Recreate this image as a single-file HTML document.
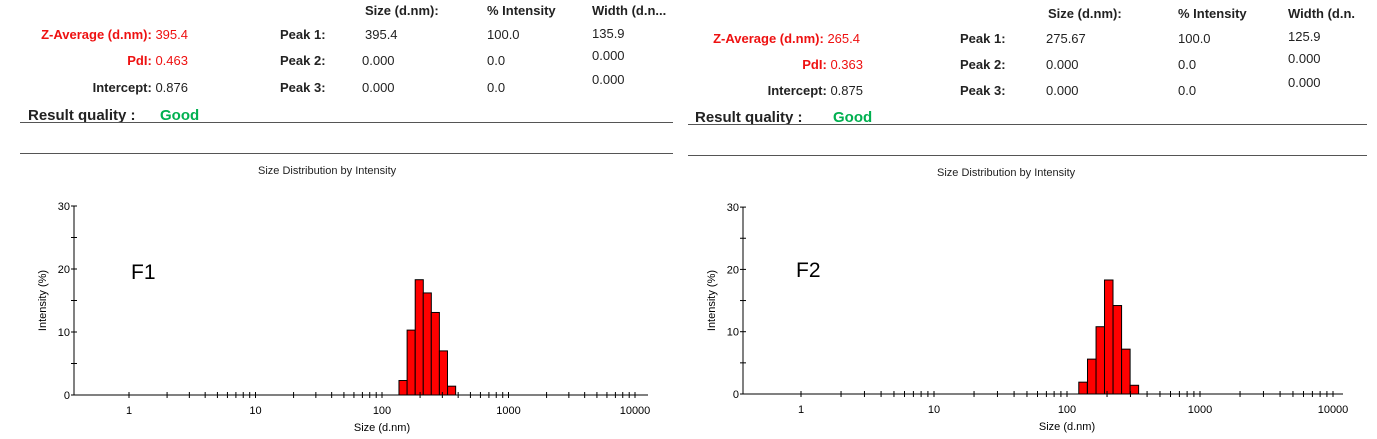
<!DOCTYPE html>
<html><head><meta charset="utf-8"><style>
body{margin:0;width:1377px;height:439px;background:#fff;position:relative;overflow:hidden;font-family:"Liberation Sans",Arial,sans-serif;}
.t{position:absolute;font-size:13px;color:#222;white-space:nowrap;}
.b{font-weight:bold;}
.rt{text-align:right;}
.hl{position:absolute;height:1px;background:#555;}
svg{position:absolute;left:0;top:0;}
</style></head><body>
<!-- Left panel -->
<div>
<div class="t b" style="left:365px;top:3px">Size (d.nm):</div>
<div class="t b" style="left:487px;top:3px">% Intensity</div>
<div class="t b" style="left:592px;top:3px">Width (d.n...</div>
<div class="t rt" style="left:0;width:188px;top:27px"><span class="b" style="color:#ee1111">Z-Average (d.nm):</span> <span style="color:#ee1111">395.4</span></div>
<div class="t rt" style="left:0;width:188px;top:53px"><span class="b" style="color:#ee1111">PdI:</span> <span style="color:#ee1111">0.463</span></div>
<div class="t rt" style="left:0;width:188px;top:80px"><span class="b">Intercept:</span> 0.876</div>
<div class="t b" style="left:280px;top:27px">Peak 1:</div>
<div class="t b" style="left:280px;top:53px">Peak 2:</div>
<div class="t b" style="left:280px;top:80px">Peak 3:</div>
<div class="t" style="left:365px;top:27px">395.4</div>
<div class="t" style="left:362px;top:53px">0.000</div>
<div class="t" style="left:362px;top:80px">0.000</div>
<div class="t" style="left:487px;top:27px">100.0</div>
<div class="t" style="left:487px;top:53px">0.0</div>
<div class="t" style="left:487px;top:80px">0.0</div>
<div class="t" style="left:592px;top:26px">135.9</div>
<div class="t" style="left:592px;top:48px">0.000</div>
<div class="t" style="left:592px;top:72px">0.000</div>
<div class="t b" style="left:28px;top:107px;font-size:15px">Result quality :</div>
<div class="t b" style="left:160px;top:107px;font-size:15px;color:#00b050">Good</div>
<div class="hl" style="left:20px;width:653px;top:122px"></div>
<div class="hl" style="left:20px;width:653px;top:153px"></div>
<div class="t" style="left:258px;top:165px;font-size:11px">Size Distribution by Intensity</div>
</div>
<!-- Right panel -->
<div>
<div class="t b" style="left:1048px;top:6px">Size (d.nm):</div>
<div class="t b" style="left:1178px;top:6px">% Intensity</div>
<div class="t b" style="left:1288px;top:6px">Width (d.n.</div>
<div class="t rt" style="left:600px;width:260px;top:31px"><span class="b" style="color:#ee1111">Z-Average (d.nm):</span> <span style="color:#ee1111">265.4</span></div>
<div class="t rt" style="left:600px;width:263px;top:57px"><span class="b" style="color:#ee1111">PdI:</span> <span style="color:#ee1111">0.363</span></div>
<div class="t rt" style="left:600px;width:263px;top:83px"><span class="b">Intercept:</span> 0.875</div>
<div class="t b" style="left:960px;top:31px">Peak 1:</div>
<div class="t b" style="left:960px;top:57px">Peak 2:</div>
<div class="t b" style="left:960px;top:83px">Peak 3:</div>
<div class="t" style="left:1046px;top:31px">275.67</div>
<div class="t" style="left:1046px;top:57px">0.000</div>
<div class="t" style="left:1046px;top:83px">0.000</div>
<div class="t" style="left:1178px;top:31px">100.0</div>
<div class="t" style="left:1178px;top:57px">0.0</div>
<div class="t" style="left:1178px;top:83px">0.0</div>
<div class="t" style="left:1288px;top:29px">125.9</div>
<div class="t" style="left:1288px;top:51px">0.000</div>
<div class="t" style="left:1288px;top:75px">0.000</div>
<div class="t b" style="left:695px;top:109px;font-size:15px">Result quality :</div>
<div class="t b" style="left:833px;top:109px;font-size:15px;color:#00b050">Good</div>
<div class="hl" style="left:688px;width:679px;top:124px"></div>
<div class="hl" style="left:688px;width:679px;top:155px"></div>
<div class="t" style="left:937px;top:167px;font-size:11px">Size Distribution by Intensity</div>
</div>
<svg id="chart" width="1377" height="439"></svg>
<script>
const f1Sizes=[146.6,170,197,228,264,306,355];
const f1Values=[2.3,10.3,18.3,16.2,13.1,7,1.4];
const f2Sizes=[132,153.5,178,206,239,277,321];
const f2Values=[1.9,5.6,10.8,18.3,14.2,7.2,1.4];
const yTicks=[0,10,20,30];
const xTicks=[1,10,100,1000,10000];
const xTickLabels=["1","10","100","1000","10000"];
const binWidthDecades=0.064;
const NS="http://www.w3.org/2000/svg";
const svg=document.getElementById('chart');
function mk(tag,attrs,parent){const e=document.createElementNS(NS,tag);for(const k in attrs)e.setAttribute(k,attrs[k]);(parent||svg).appendChild(e);return e;}
function panel(cfg,sizes,values,label,name){
  const g=mk('g',{});
  
  
  const xs=v=>cfg.x1+(Math.log10(v))*cfg.dec;
  const ys=v=>cfg.y0-v*cfg.yu;
  const L={stroke:'#000','stroke-width':1,fill:'none'};
  sizes.forEach((s,i)=>{
    const lc=Math.log10(s);
    const xa=cfg.x1+(lc-binWidthDecades/2)*cfg.dec, xb=cfg.x1+(lc+binWidthDecades/2)*cfg.dec;
    const r=mk('rect',{x:xa,y:ys(values[i]),width:xb-xa,height:cfg.y0-ys(values[i]),fill:'#ff0000',stroke:'#000','stroke-width':1},g);
    
    
  });
  mk('line',Object.assign({x1:cfg.ax,y1:ys(30),x2:cfg.ax,y2:cfg.y0},L),g);
  mk('line',Object.assign({x1:cfg.ax,y1:cfg.y0,x2:cfg.xend,y2:cfg.y0},L),g);
  for(let v=0;v<=30;v+=5){mk('line',Object.assign({x1:cfg.ax-3,y1:ys(v),x2:cfg.ax+3,y2:ys(v)},L),g);}
  yTicks.forEach(v=>{const t=mk('text',{x:cfg.ax-4,y:ys(v)+4,'text-anchor':'end','font-size':11,'font-family':'Liberation Sans, sans-serif'},g);t.textContent=v;});
  for(let d=0;d<4;d++)for(let m=1;m<=9;m++){const x=xs(Math.pow(10,d)*m);mk('line',Object.assign({x1:x,y1:cfg.y0-3,x2:x,y2:cfg.y0+3},L),g);}
  mk('line',Object.assign({x1:xs(10000),y1:cfg.y0-3,x2:xs(10000),y2:cfg.y0+3},L),g);
  xTicks.forEach((v,i)=>{const t=mk('text',{x:xs(v),y:cfg.y0+19,'text-anchor':'middle','font-size':11,'font-family':'Liberation Sans, sans-serif'},g);t.textContent=xTickLabels[i];});
  const xt=mk('text',{x:(xs(1)+xs(10000))/2,y:cfg.y0+36,'text-anchor':'middle','font-size':11,'font-family':'Liberation Sans, sans-serif'},g);xt.textContent='Size (d.nm)';
  
  const yt=mk('text',{x:0,y:0,transform:`translate(${cfg.ax-28},${ys(15)}) rotate(-90)`,'text-anchor':'middle','font-size':11,'font-family':'Liberation Sans, sans-serif'},g);yt.textContent='Intensity (%)';
  
  const lb=mk('text',{x:cfg.lx,y:cfg.ly,'font-size':21,'font-family':'Liberation Sans, sans-serif'},g);lb.textContent=label;
  
}
panel({x1:129,dec:126.5,ax:74,xend:648,y0:395,yu:6.3,lx:131,ly:279},f1Sizes,f1Values,'F1','f1');
panel({x1:801,dec:133,ax:743,xend:1343,y0:394,yu:6.23,lx:796,ly:277},f2Sizes,f2Values,'F2','f2');
</script>
</body></html>
